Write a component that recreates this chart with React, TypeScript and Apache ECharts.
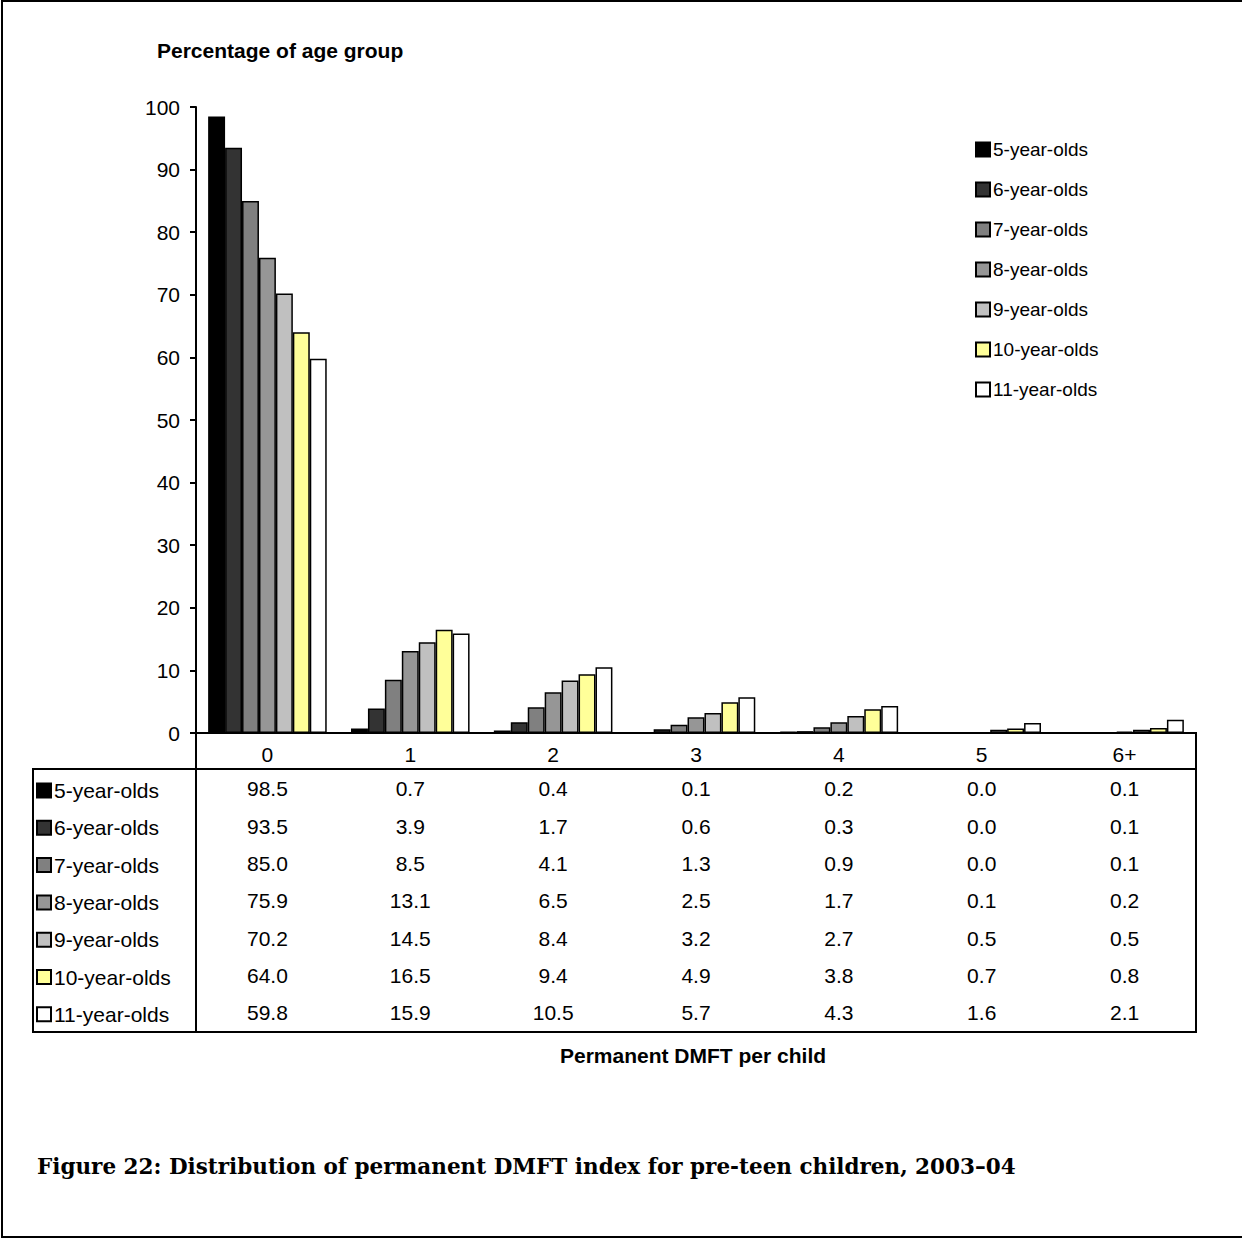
import React, { useEffect, useRef } from 'react';
import * as echarts from 'echarts';

const categories = ['0', '1', '2', '3', '4', '5', '6+'];
const ageGroups = ['5-year-olds', '6-year-olds', '7-year-olds', '8-year-olds', '9-year-olds', '10-year-olds', '11-year-olds'];
const colors = ['#000000', '#333333', '#808080', '#969696', '#c0c0c0', '#ffff99', '#ffffff'];

const age5 = [98.5, 0.7, 0.4, 0.1, 0.2, 0.0, 0.1];
const age6 = [93.5, 3.9, 1.7, 0.6, 0.3, 0.0, 0.1];
const age7 = [85.0, 8.5, 4.1, 1.3, 0.9, 0.0, 0.1];
const age8 = [75.9, 13.1, 6.5, 2.5, 1.7, 0.1, 0.2];
const age9 = [70.2, 14.5, 8.4, 3.2, 2.7, 0.5, 0.5];
const age10 = [64.0, 16.5, 9.4, 4.9, 3.8, 0.7, 0.8];
const age11 = [59.8, 15.9, 10.5, 5.7, 4.3, 1.6, 2.1];
const rows = [age5, age6, age7, age8, age9, age10, age11];

const yTicks = { min: 0, max: 100, interval: 10 };

const FONT = 'Arial, "Liberation Sans", sans-serif';

export default function App() {
  const chartRef = useRef<HTMLDivElement>(null);

  useEffect(() => {
    document.body.style.margin = '0';
    if (!chartRef.current) return;
    const chart = echarts.init(chartRef.current, null, { renderer: 'svg' });

    const axisY = 733;
    const rowCenters = [788, 826, 863, 900, 938, 975, 1012];

    // one hidden category axis per table row, its labels are the row values
    const rowAxes = rows.map((vals, r) => ({
      type: 'category',
      data: categories,
      position: 'bottom',
      offset: rowCenters[r] - axisY,
      axisLine: { show: false },
      axisTick: { show: false },
      splitLine: { show: false },
      axisLabel: {
        margin: 0,
        verticalAlign: 'middle',
        fontSize: 21,
        fontFamily: FONT,
        color: '#000',
        formatter: (_v: string, i: number) => vals[i].toFixed(1),
      },
    }));

    const line = (x1: number, y1: number, x2: number, y2: number) => ({
      type: 'line',
      shape: { x1, y1, x2, y2 },
      style: { stroke: '#000', lineWidth: 2 },
      z: 10,
    });

    const option = {
      animation: false,
      backgroundColor: '#fff',
      title: [
        {
          text: 'Percentage of age group',
          left: 157,
          top: 40,
          padding: 0,
          textStyle: { fontSize: 21, fontWeight: 'bold', fontFamily: FONT, color: '#000' },
        },
        {
          text: 'Permanent DMFT per child',
          left: 560,
          top: 1045,
          padding: 0,
          textStyle: { fontSize: 21, fontWeight: 'bold', fontFamily: FONT, color: '#000' },
        },
        {
          text: 'Figure 22: Distribution of permanent DMFT index for pre-teen children, 2003\u201304',
          left: 37,
          top: 1155,
          padding: 0,
          textStyle: { fontSize: 21.5, fontWeight: 'bold', fontFamily: '"DejaVu Serif", "Liberation Serif", serif', color: '#000' },
        },
      ],
      legend: [
        {
          orient: 'vertical',
          left: 975,
          top: 140,
          padding: 0,
          icon: 'rect',
          itemWidth: 14,
          itemHeight: 14,
          itemGap: 21,
          data: ageGroups,
          textStyle: { fontSize: 19, fontFamily: FONT, color: '#000', padding: [0, 0, 0, -2] },
        },
        {
          orient: 'vertical',
          left: 36,
          top: 780,
          padding: 0,
          icon: 'rect',
          itemWidth: 14,
          itemHeight: 14,
          itemGap: 16.3,
          data: ageGroups,
          textStyle: { fontSize: 21, fontFamily: FONT, color: '#000', padding: [0, 0, 0, -2] },
        },
      ],
      grid: { left: 196, top: 107, right: 46, bottom: 1240 - axisY, containLabel: false },
      xAxis: [
        {
          type: 'category',
          data: categories,
          axisLine: { lineStyle: { color: '#000', width: 2 } },
          axisTick: { show: false },
          axisLabel: {
            margin: 21,
            verticalAlign: 'middle',
            fontSize: 21,
            fontFamily: FONT,
            color: '#000',
          },
        },
        ...rowAxes,
      ],
      yAxis: {
        type: 'value',
        ...yTicks,
        axisLine: { show: true, lineStyle: { color: '#000', width: 2 } },
        axisTick: { show: true, length: 6, lineStyle: { color: '#000', width: 2 } },
        splitLine: { show: false },
        axisLabel: { margin: 16, fontSize: 21, fontFamily: FONT, color: '#000' },
      },
      series: rows.map((vals, i) => ({
        name: ageGroups[i],
        type: 'bar',
        data: vals,
        barGap: '0%',
        barCategoryGap: '17%',
        itemStyle: { color: colors[i], borderColor: '#000', borderWidth: 1.5 },
      })),
      graphic: [
        {
          type: 'rect',
          shape: { x: 2, y: 1, width: 1300, height: 1236 },
          style: { fill: 'none', stroke: '#000', lineWidth: 2 },
        },
        line(33, 769, 1196, 769),
        line(33, 1032, 1196, 1032),
        line(33, 768, 33, 1033),
        line(196, 733, 196, 1033),
        line(1196, 732, 1196, 1033),
      ],
    };

    chart.setOption(option);
    return () => chart.dispose();
  }, []);

  return <div ref={chartRef} style={{ width: 1242, height: 1240 }} />;
}
